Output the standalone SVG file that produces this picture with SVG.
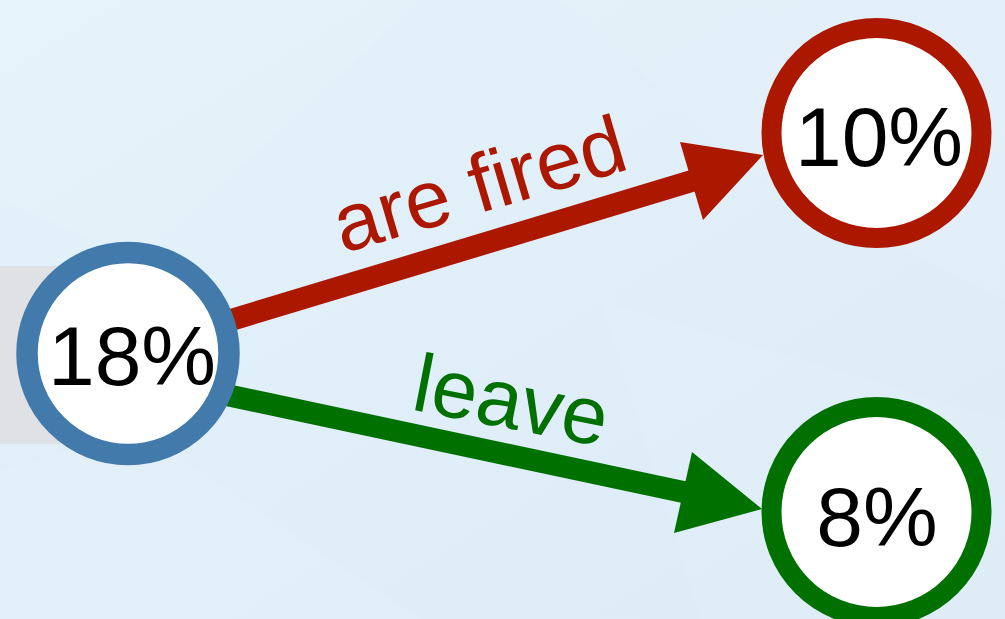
<svg xmlns="http://www.w3.org/2000/svg" width="1005" height="619" viewBox="0 0 1005 619">
  <style>
    .lbl { font-family: "Liberation Sans", Arial, Helvetica, sans-serif; font-size: 82px; }
    .num { fill: #000000; text-anchor: middle; font-size: 84px; }
    .ring { fill: #ffffff; }
  </style>
  <defs>
    <linearGradient id="bg" x1="0" y1="0" x2="1" y2="1">
      <stop offset="0" stop-color="#e4f2fa"/>
      <stop offset="1" stop-color="#dcebf7"/>
    </linearGradient>
  </defs>
  <rect x="0" y="0" width="1005" height="619" fill="url(#bg)"/>
  <g id="background-shapes" fill="#ffffff">
    <polygon points="0,0 420,0 140,260 0,200" opacity="0.12"/>
    <polygon points="560,0 1005,0 1005,300 760,180" opacity="0.10"/>
    <polygon points="140,430 420,619 0,619 0,470" opacity="0.10"/>
    <polygon points="600,300 1005,420 1005,619 700,619" opacity="0.06"/>
  </g>
  <rect id="gray-band" x="0" y="266" width="128" height="178" fill="#dfe1e4"/>

  <g id="connectors">
    <g id="edge-fired">
      <line x1="128" y1="351" x2="695" y2="180" stroke="#ac1700" stroke-width="22"/>
      <polygon points="680,142 763,155 703,220" fill="#ac1700"/>
      <text class="lbl" fill="#ac1700" text-anchor="middle" transform="translate(487,211) rotate(-16.4)">are fired</text>
    </g>
    <g id="edge-leave">
      <line x1="128" y1="374" x2="688" y2="493" stroke="#007000" stroke-width="22"/>
      <polygon points="692,452 762,509 674,533" fill="#007000"/>
      <text class="lbl" fill="#007000" text-anchor="middle" font-size="84" transform="translate(506,428) rotate(11)">leave</text>
    </g>
  </g>

  <g id="node-18">
    <circle class="ring" cx="128" cy="353.5" r="101" stroke="#417aab" stroke-width="21.5"/>
    <text class="lbl num" x="132" y="385">18%</text>
  </g>
  <g id="node-10">
    <circle class="ring" cx="876.5" cy="133" r="105" stroke="#ac1700" stroke-width="20"/>
    <text class="lbl num" x="879" y="166">10%</text>
  </g>
  <g id="node-8">
    <circle class="ring" cx="876.5" cy="512" r="105" stroke="#007000" stroke-width="20"/>
    <text class="lbl num" x="877" y="546">8%</text>
  </g>
</svg>
